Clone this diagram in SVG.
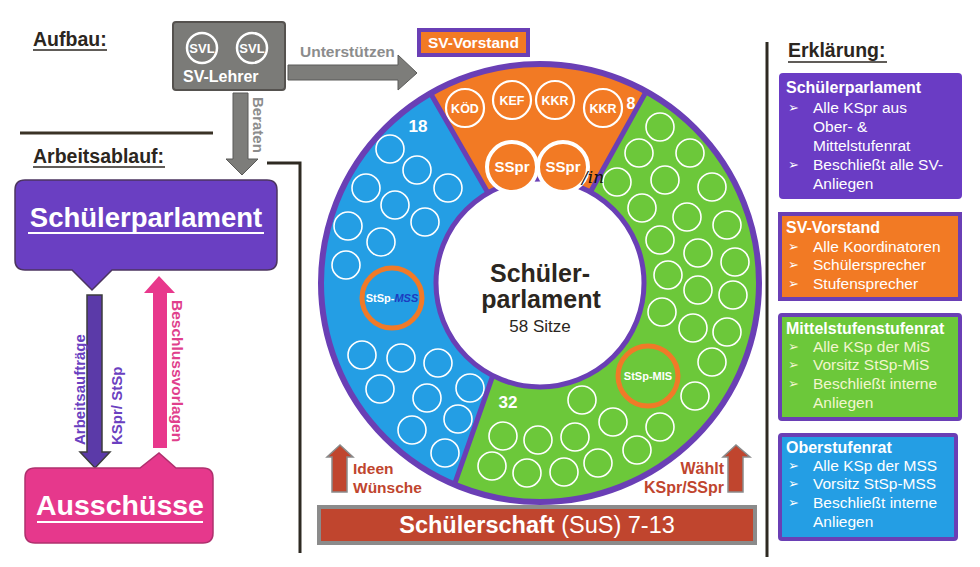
<svg xmlns="http://www.w3.org/2000/svg" width="980" height="567" viewBox="0 0 980 567">
<style>
text{font-family:"Liberation Sans",Arial,sans-serif}
.b{font-weight:bold}
.w{fill:#fff}
.seat{fill:none;stroke:#fff;stroke-width:1.6}
.oc{fill:none;stroke:#fff;stroke-width:2.2}
.head{font-size:19.5px;font-weight:bold;fill:#2b2620}
.lt{font-size:15.5px;fill:#fff}
.lh{font-size:16px;font-weight:bold;fill:#fff}
.bul{font-family:"DejaVu Sans",sans-serif;font-size:13px}
.dark{stroke:#2e2a22;stroke-width:3;fill:none}
</style>
<rect width="980" height="567" fill="#fff"/>

<g id="headings">
<text class="head" x="33" y="46">Aufbau:</text>
<line x1="33" y1="50" x2="107" y2="50" stroke="#2b2620" stroke-width="1.6"/>
<text class="head" x="33" y="163">Arbeitsablauf:</text>
<line x1="33" y1="167" x2="165" y2="167" stroke="#2b2620" stroke-width="1.6"/>
<text class="head" x="788" y="57">Erklärung:</text>
<line x1="788" y1="62" x2="887" y2="62" stroke="#2b2620" stroke-width="1.6"/>
</g>

<g id="connectors">
<line x1="20" y1="133" x2="213" y2="133" stroke="#3a3226" stroke-width="3"/>
<path class="dark" d="M267,163 H300 V553"/>
<line x1="767" y1="42" x2="767" y2="557" stroke="#2e2a22" stroke-width="3"/>
<path d="M233,93 H248 V159 H258 L242,175 L226,159 H233 Z" fill="#7d7d7a" stroke="#5a5a58" stroke-width="1"/>
<text transform="translate(253,97) rotate(90)" font-size="15" fill="#8c8c8c" class="b">Beraten</text>
<path d="M288,65 H398 V55 L417,73 L398,90 V80 H288 Z" fill="#7d7d7a" stroke="#5a5a58" stroke-width="1"/>
<text x="300" y="57" font-size="15.5" class="b" fill="#8c8c8c">Unterstützen</text>
<path d="M87,295 H102 V452 H110 L95,468 L80,452 H87 Z" fill="#5b3aa8" stroke="#3d3d3d" stroke-width="1.5"/>
<text transform="translate(85,445) rotate(-90)" font-size="15" class="b" fill="#6a40c0">Arbeitsaufträge</text>
<text transform="translate(122,445) rotate(-90)" font-size="15" class="b" fill="#6a40c0">KSpr/ StSp</text>
<path d="M153,448 V293 H144 L159,276 L175,293 H167 V448 Z" fill="#e8388c"/>
<text transform="translate(172,300) rotate(90)" font-size="15.5" class="b" fill="#e0408c">Beschlussvorlagen</text>
<path d="M518,250 V215 H510 L524,202 L538,215 H530 V250 Z" fill="#6a40b8" stroke="#8a8a8a" stroke-width="1.2"/>
<text x="532" y="230" font-size="15" class="b" fill="#6a40c0">Wählt</text>
<text x="532" y="249" font-size="15" class="b" fill="#6a40c0">SVVo</text>
<path d="M332,492 V457 H327 L340,445 L353,457 H347 V492 Z" fill="#c0452e" stroke="#8a8a8a" stroke-width="1.5"/>
<text x="353" y="474" font-size="15.5" class="b" fill="#c0452e">Ideen</text>
<text x="353" y="493" font-size="15.5" class="b" fill="#c0452e">Wünsche</text>
<path d="M728,492 V457 H723 L736,445 L750,457 H743 V492 Z" fill="#c0452e" stroke="#8a8a8a" stroke-width="1.5"/>
<text x="724" y="474" font-size="16" class="b" fill="#c0452e" text-anchor="end">Wählt</text>
<text x="724" y="493" font-size="16" class="b" fill="#c0452e" text-anchor="end">KSpr/SSpr</text>
</g>

<g id="sv-lehrer">
<rect x="173" y="22" width="112" height="68" rx="3" fill="#7b7b78" stroke="#55524f" stroke-width="2"/>
<circle cx="202" cy="48" r="15" fill="none" stroke="#fff" stroke-width="2.5"/>
<circle cx="252" cy="48" r="15" fill="none" stroke="#fff" stroke-width="2.5"/>
<text x="202" y="53" font-size="13" class="b w" text-anchor="middle">SVL</text>
<text x="252" y="53" font-size="13" class="b w" text-anchor="middle">SVL</text>
<text x="183" y="82" font-size="16" class="b w">SV-Lehrer</text>
</g>

<g id="sv-vorstand-label">
<rect x="419" y="30" width="109" height="25" fill="#f27a24" stroke="#6a3fb5" stroke-width="4"/>
<text x="473.5" y="48" font-size="15.5" class="b w" text-anchor="middle">SV-Vorstand</text>
</g>

<g id="sp-left">
<path d="M25,180 H267 Q277,180 277,190 V260 Q277,270 267,270 H112 L92,290 L72,270 H25 Q15,270 15,260 V190 Q15,180 25,180 Z" fill="#6a3fc2" stroke="#4c3560" stroke-width="1.5"/>
<text x="146" y="227" font-size="27.5" class="b w" text-anchor="middle">Schülerparlament</text>
<line x1="28" y1="233" x2="264" y2="233" stroke="#fff" stroke-width="2"/>
</g>

<g id="ausschuesse">
<path d="M35,468 H140 L159,453 L176,468 H203 Q213,468 213,478 V533 Q213,543 203,543 H35 Q25,543 25,533 V478 Q25,468 35,468 Z" fill="#e6388c" stroke="#b0306e" stroke-width="1.5"/>
<text x="120" y="515" font-size="28.5" class="b w" text-anchor="middle">Ausschüsse</text>
<line x1="37" y1="522" x2="203" y2="522" stroke="#fff" stroke-width="2"/>
</g>

<g id="ring">
<path id="sector-orange" d="M430.5,93.3 A219,219 0 0,1 646.2,91.5 L590.4,192 A104,104 0 0,0 488,192.9 Z" fill="#f27a24"/>
<path id="sector-green" d="M646.2,91.5 A219,219 0 0,1 454.4,484.6 L492.8,375.7 A104,104 0 0,0 590.4,192 Z" fill="#6cc83a"/>
<path id="sector-blue" d="M454.4,484.6 A219,219 0 0,1 430.5,93.3 L488,192.9 A104,104 0 0,0 492.8,375.7 Z" fill="#249ee4"/>
<g>
<circle class="seat" cx="390" cy="149" r="14"/><circle class="seat" cx="417" cy="170" r="14"/>
<circle class="seat" cx="366" cy="188" r="14"/><circle class="seat" cx="448" cy="188" r="14"/>
<circle class="seat" cx="395" cy="205" r="14"/><circle class="seat" cx="425" cy="222" r="14"/>
<circle class="seat" cx="348" cy="226" r="14"/><circle class="seat" cx="381" cy="242" r="14"/>
<circle class="seat" cx="346" cy="265" r="14"/>
<circle class="seat" cx="362" cy="355" r="14"/><circle class="seat" cx="401" cy="358" r="14"/>
<circle class="seat" cx="438" cy="363" r="14"/><circle class="seat" cx="380" cy="389" r="14"/>
<circle class="seat" cx="427" cy="398" r="14"/><circle class="seat" cx="470" cy="388" r="14"/>
<circle class="seat" cx="412" cy="430" r="14"/><circle class="seat" cx="458" cy="419" r="14"/>
<circle class="seat" cx="445" cy="453" r="14"/>
</g>
<circle cx="392" cy="298" r="30" fill="none" stroke="#f07a28" stroke-width="5"/>
<text x="392" y="302" font-size="11" class="b" text-anchor="middle"><tspan fill="#fff">StSp-</tspan><tspan fill="#1c3cc0" font-style="italic">MSS</tspan></text>
<text x="418" y="132" font-size="17" class="b w" text-anchor="middle">18</text>
<g>
<circle class="seat" cx="660" cy="127" r="14"/><circle class="seat" cx="639" cy="153" r="14"/>
<circle class="seat" cx="690" cy="153" r="14"/><circle class="seat" cx="617" cy="182" r="14"/>
<circle class="seat" cx="665" cy="180" r="14"/><circle class="seat" cx="712" cy="187" r="14"/>
<circle class="seat" cx="642" cy="208" r="14"/><circle class="seat" cx="687" cy="217" r="14"/>
<circle class="seat" cx="727" cy="225" r="14"/><circle class="seat" cx="660" cy="240" r="14"/>
<circle class="seat" cx="698" cy="253" r="14"/><circle class="seat" cx="735" cy="262" r="14"/>
<circle class="seat" cx="668" cy="275" r="14"/><circle class="seat" cx="698" cy="290" r="14"/>
<circle class="seat" cx="733" cy="295" r="14"/><circle class="seat" cx="662" cy="312" r="14"/>
<circle class="seat" cx="693" cy="328" r="14"/><circle class="seat" cx="727" cy="332" r="14"/>
<circle class="seat" cx="712" cy="362" r="14"/><circle class="seat" cx="695" cy="396" r="14"/>
<circle class="seat" cx="582" cy="400" r="14"/><circle class="seat" cx="613" cy="422" r="14"/>
<circle class="seat" cx="660" cy="427" r="14"/><circle class="seat" cx="575" cy="437" r="14"/>
<circle class="seat" cx="637" cy="450" r="14"/><circle class="seat" cx="598" cy="463" r="14"/>
<circle class="seat" cx="564" cy="472" r="14"/><circle class="seat" cx="538" cy="440" r="14"/>
<circle class="seat" cx="527" cy="473" r="14"/><circle class="seat" cx="503" cy="436" r="14"/>
<circle class="seat" cx="492" cy="466" r="14"/>
</g>
<circle cx="648" cy="376" r="30" fill="none" stroke="#f07a28" stroke-width="5"/>
<text x="648" y="380" font-size="11" class="b w" text-anchor="middle">StSp-MIS</text>
<text x="508" y="408" font-size="17" class="b w" text-anchor="middle">32</text>
<circle class="oc" cx="465" cy="108" r="19"/><circle class="oc" cx="512" cy="100" r="19"/>
<circle class="oc" cx="555" cy="100" r="19"/><circle class="oc" cx="603" cy="108" r="19"/>
<text x="465" y="113" font-size="12.5" class="b w" text-anchor="middle">KÖD</text>
<text x="512" y="105" font-size="12.5" class="b w" text-anchor="middle">KEF</text>
<text x="555" y="105" font-size="12.5" class="b w" text-anchor="middle">KKR</text>
<text x="603" y="113" font-size="12.5" class="b w" text-anchor="middle">KKR</text>
<text x="631" y="109" font-size="16" class="b w" text-anchor="middle">8</text>
<circle cx="540" cy="283" r="104" fill="#fff" stroke="#6a3fb5" stroke-width="5"/>
<circle cx="540" cy="283" r="219" fill="none" stroke="#6a3fb5" stroke-width="6"/>
<path d="M430.5,93.3 L488,192.9 M646.2,91.5 L590.4,192 M454.4,484.6 L492.8,375.7" stroke="#6a3fb5" stroke-width="5" fill="none"/>
<circle cx="512" cy="167" r="25" fill="#f27a24" stroke="#fff" stroke-width="4"/>
<circle cx="563" cy="167" r="25" fill="#f27a24" stroke="#fff" stroke-width="4"/>
<text x="512" y="172" font-size="15" class="b w" text-anchor="middle">SSpr</text>
<text x="563" y="172" font-size="15" class="b w" text-anchor="middle">SSpr</text>
<text x="582" y="183" font-size="17" font-style="italic" fill="#111" style="font-family:'DejaVu Serif',serif">/in</text>
<text x="540" y="282" font-size="25" class="b" fill="#2b2620" text-anchor="middle">Schüler-</text>
<text x="541" y="308" font-size="25" class="b" fill="#2b2620" text-anchor="middle">parlament</text>
<text x="540" y="332" font-size="17" fill="#2b2620" text-anchor="middle">58 Sitze</text>
</g>

<g id="schuelerschaft">
<rect x="317" y="505" width="440" height="40" fill="#8b8b8b"/>
<rect x="321" y="509" width="432" height="32" fill="#c0452e"/>
<text x="537" y="533" font-size="23.5" class="w" text-anchor="middle"><tspan font-weight="bold">Schülerschaft</tspan> (SuS) 7-13</text>
</g>

<g id="legend-sp">
<rect x="779" y="73" width="183" height="126" rx="4" fill="#6a3cc4"/>
<text class="lh" x="786" y="93">Schülerparlament</text>
<text class="lt"><tspan class="bul" x="788" y="112">➢</tspan><tspan x="813" y="113">Alle KSpr aus</tspan><tspan x="813" y="132">Ober- &amp;</tspan><tspan x="813" y="151">Mittelstufenrat</tspan><tspan class="bul" x="788" y="169">➢</tspan><tspan x="813" y="170">Beschließt alle SV-</tspan><tspan x="813" y="189">Anliegen</tspan></text>
</g>
<g id="legend-svv">
<rect x="780" y="214" width="180" height="85" fill="#f27a24" stroke="#6a3fb5" stroke-width="4"/>
<text class="lh" x="786" y="233">SV-Vorstand</text>
<text class="lt"><tspan class="bul" x="788" y="251">➢</tspan><tspan x="813" y="252">Alle Koordinatoren</tspan><tspan class="bul" x="788" y="269">➢</tspan><tspan x="813" y="270">Schülersprecher</tspan><tspan class="bul" x="788" y="288">➢</tspan><tspan x="813" y="289">Stufensprecher</tspan></text>
</g>
<g id="legend-mis">
<rect x="780" y="315" width="180" height="104" rx="2" fill="#6cc83a" stroke="#6a3fb5" stroke-width="4"/>
<text class="lh" x="786" y="334">Mittelstufenstufenrat</text>
<text class="lt" style="fill:#f2f6cf"><tspan class="bul" x="788" y="351">➢</tspan><tspan x="813" y="352">Alle KSp der MiS</tspan><tspan class="bul" x="788" y="369">➢</tspan><tspan x="813" y="370">Vorsitz StSp-MiS</tspan><tspan class="bul" x="788" y="388">➢</tspan><tspan x="813" y="389">Beschließt interne</tspan><tspan x="813" y="408">Anliegen</tspan></text>
</g>
<g id="legend-mss">
<rect x="780" y="435" width="176" height="104" rx="2" fill="#249ee4" stroke="#6a3fb5" stroke-width="4"/>
<text class="lh" x="786" y="453">Oberstufenrat</text>
<text class="lt"><tspan class="bul" x="788" y="470">➢</tspan><tspan x="813" y="471">Alle KSp der MSS</tspan><tspan class="bul" x="788" y="488">➢</tspan><tspan x="813" y="489">Vorsitz StSp-MSS</tspan><tspan class="bul" x="788" y="507">➢</tspan><tspan x="813" y="508">Beschließt interne</tspan><tspan x="813" y="527">Anliegen</tspan></text>
</g>
</svg>
